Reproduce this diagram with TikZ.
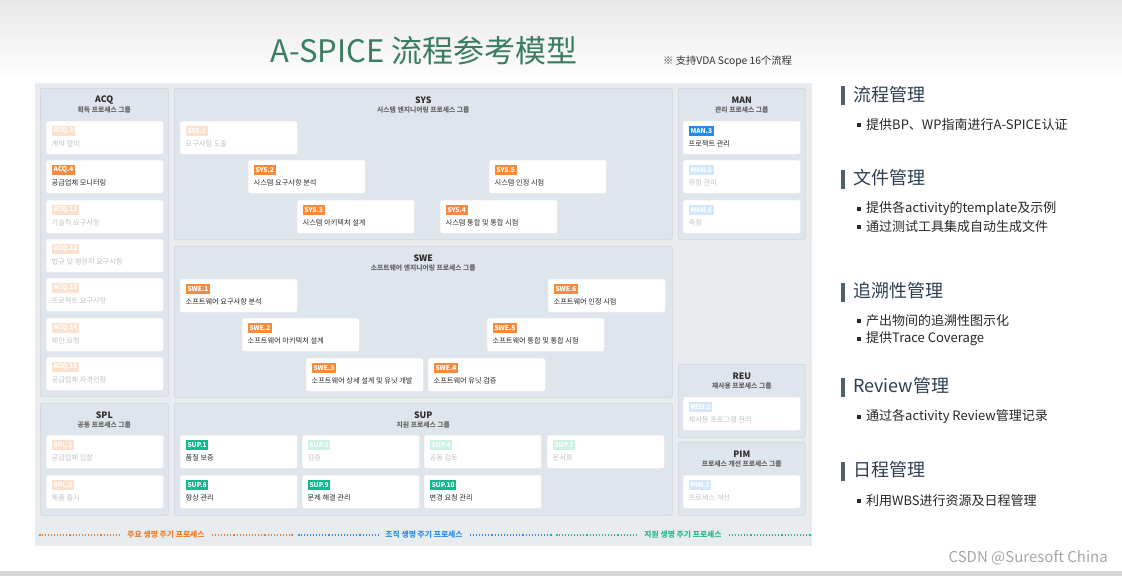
\documentclass[tikz,border=0pt]{standalone}
\usepackage{fontspec}
\setmainfont{Noto Sans CJK SC}
\newfontfamily\kr{Noto Sans CJK KR}
\newfontfamily\zhf{Noto Sans CJK SC}
\usetikzlibrary{calc}
\definecolor{panelbg}{HTML}{E8ECEF}
\definecolor{groupbg}{HTML}{DFE5EC}
\definecolor{groupline}{HTML}{CDD4DC}
\definecolor{orangeT}{HTML}{F68B3E}
\definecolor{orangeF}{HTML}{FDE1CF}
\definecolor{blueT}{HTML}{1E8CF0}
\definecolor{blueF}{HTML}{D3E8FB}
\definecolor{greenT}{HTML}{14B88E}
\definecolor{greenF}{HTML}{CDF1E6}
\definecolor{txt}{HTML}{2A2A2A}
\definecolor{txtF}{HTML}{C2C2C2}
\definecolor{titlegreen}{HTML}{3B7D60}
\definecolor{headcol}{HTML}{2D3E50}
\definecolor{barcol}{HTML}{4F5F70}
\definecolor{legO}{HTML}{EF7D2C}
\definecolor{legB}{HTML}{2F8FE6}
\definecolor{legG}{HTML}{27B98C}
\tikzset{
  item/.style={draw=black!7, fill=white, rounded corners=1.5pt, minimum width=117pt, minimum height=33pt, anchor=north west, inner sep=0pt},
  tag/.style={anchor=north west, text=white, font=\kr\bfseries\fontsize{6.6}{7}\selectfont, inner xsep=1.8pt, inner ysep=0pt, minimum height=9.5pt},
  lbl/.style={anchor=west, inner sep=0pt, font=\kr\fontsize{7.2}{8}\selectfont},
  group/.style={draw=groupline, fill=groupbg, rounded corners=2pt, line width=0.6pt, anchor=north west, inner sep=0pt},
  gtitle/.style={font=\kr\bfseries\fontsize{8.8}{10}\selectfont, text=txt, inner sep=0pt},
  gsub/.style={font=\kr\bfseries\fontsize{6.8}{8}\selectfont, text=black!60, inner sep=0pt},
  head/.style={anchor=west, inner sep=0pt, font=\zhf\fontsize{18}{20}\selectfont, text=headcol},
  hbar/.style={fill=barcol, inner sep=0pt, minimum width=4pt, minimum height=19pt},
  bul/.style={fill=txt, inner sep=0pt, minimum size=3.5pt},
  btext/.style={anchor=west, inner sep=0pt, font=\zhf\fontsize{13}{15}\selectfont, text=black!85},
  legline/.style={dotted, line width=1.1pt},
  legdot/.style={circle, inner sep=0pt, minimum size=2.6pt},
  legtext/.style={inner sep=0pt, font=\kr\bfseries\fontsize{7.8}{9}\selectfont}
}
\newcommand\proc[7]{%
  \node[item] (#1) at (#2,#3) {};
  \node[tag, fill=#6] (#1-t) at ([xshift=5.5pt,yshift=-5pt]#1.north west) {#4};
  \node[lbl, text=#7] (#1-l) at ([xshift=5.5pt,yshift=-23pt]#1.north west) {#5};
}
\newcommand\grp[8]{% name x y w h title subtitle dummy
  \node[group, minimum width=#4pt, minimum height=#5pt] (#1) at (#2,#3) {};
  \node[gtitle] (#1-title) at ([yshift=-12pt]#1.north) {#6};
  \node[gsub] (#1-sub) at ([yshift=-22pt]#1.north) {#7};
}
\begin{document}
\begin{tikzpicture}[x=1pt,y=-1pt]
\useasboundingbox (0,0) rectangle (1122,576);
% background
\shade[top color=black!9, bottom color=white] (0,0) rectangle (1122,82);
\fill[black!16] (0,571) rectangle (1122,576);
% title
\node[inner sep=0pt, font=\zhf\fontsize{31}{34}\selectfont, text=titlegreen] (title) at (424,51) {A-SPICE 流程参考模型};
\node[inner sep=0pt, anchor=west, font=\zhf\fontsize{10.3}{12}\selectfont, text=black!80] (note) at (663,61) {※ 支持VDA Scope 16个流程};
% diagram panel
\node[fill=panelbg, inner sep=0pt, minimum width=777pt, minimum height=463pt, anchor=north west] (panel) at (35,83) {};
% ACQ
\grp{acq}{40}{88}{128}{308}{ACQ}{획득 프로세스 그룹}{}
\proc{acq3}{46}{121}{ACQ.3}{계약 협의}{orangeF}{txtF}
\proc{acq4}{46}{160}{ACQ.4}{공급업체 모니터링}{orangeT}{txt}
\proc{acq11}{46}{200}{ACQ.11}{기술적 요구사항}{orangeF}{txtF}
\proc{acq12}{46}{239}{ACQ.12}{법규 및 행정적 요구사항}{orangeF}{txtF}
\proc{acq13}{46}{278}{ACQ.13}{프로젝트 요구사항}{orangeF}{txtF}
\proc{acq14}{46}{318}{ACQ.14}{제안 요청}{orangeF}{txtF}
\proc{acq15}{46}{357}{ACQ.15}{공급업체 자격인정}{orangeF}{txtF}
% SYS
\grp{sys}{174}{88}{498}{151}{SYS}{시스템 엔지니어링 프로세스 그룹}{}
\proc{sys1}{180}{121}{SYS.1}{요구사항 도출}{orangeF}{txtF}
\proc{sys2}{248}{160}{SYS.2}{시스템 요구사항 분석}{orangeT}{txt}
\proc{sys3}{297}{200}{SYS.3}{시스템 아키텍처 설계}{orangeT}{txt}
\proc{sys4}{440}{200}{SYS.4}{시스템 통합 및 통합 시험}{orangeT}{txt}
\proc{sys5}{489}{160}{SYS.5}{시스템 인정 시험}{orangeT}{txt}
% SWE
\grp{swe}{174}{246}{498}{151}{SWE}{소프트웨어 엔지니어링 프로세스 그룹}{}
\proc{swe1}{180}{279}{SWE.1}{소프트웨어 요구사항 분석}{orangeT}{txt}
\proc{swe2}{242}{318}{SWE.2}{소프트웨어 아키텍처 설계}{orangeT}{txt}
\proc{swe3}{306}{358}{SWE.3}{소프트웨어 상세 설계 및 유닛 개발}{orangeT}{txt}
\proc{swe4}{428}{358}{SWE.4}{소프트웨어 유닛 검증}{orangeT}{txt}
\proc{swe5}{487}{318}{SWE.5}{소프트웨어 통합 및 통합 시험}{orangeT}{txt}
\proc{swe6}{548}{279}{SWE.6}{소프트웨어 인정 시험}{orangeT}{txt}
% MAN
\grp{man}{678}{88}{127}{151}{MAN}{관리 프로세스 그룹}{}
\proc{man3}{683}{121}{MAN.3}{프로젝트 관리}{blueT}{txt}
\proc{man5}{683}{160}{MAN.5}{위험 관리}{blueF}{txtF}
\proc{man6}{683}{200}{MAN.6}{측정}{blueF}{txtF}
% REU
\grp{reu}{678}{364}{127}{73}{REU}{재사용 프로세스 그룹}{}
\proc{reu2}{683}{397}{REU.2}{재사용 프로그램 관리}{blueF}{txtF}
% PIM
\grp{pim}{678}{442}{127}{73}{PIM}{프로세스 개선 프로세스 그룹}{}
\proc{pim3}{683}{475}{PIM.3}{프로세스 개선}{blueF}{txtF}
% SPL
\grp{spl}{40}{403}{128}{112}{SPL}{공동 프로세스 그룹}{}
\proc{spl1}{46}{435}{SPL.1}{공급업체 입찰}{orangeF}{txtF}
\proc{spl2}{46}{475}{SPL.2}{제품 출시}{orangeF}{txtF}
% SUP
\grp{sup}{174}{403}{498}{112}{SUP}{지원 프로세스 그룹}{}
\proc{sup1}{180}{435}{SUP.1}{품질 보증}{greenT}{txt}
\proc{sup2}{302}{435}{SUP.2}{검증}{greenF}{txtF}
\proc{sup4}{424}{435}{SUP.4}{공동 검토}{greenF}{txtF}
\proc{sup7}{547}{435}{SUP.7}{문서화}{greenF}{txtF}
\proc{sup8}{180}{475}{SUP.8}{형상 관리}{greenT}{txt}
\proc{sup9}{302}{475}{SUP.9}{문제 해결 관리}{greenT}{txt}
\proc{sup10}{424}{475}{SUP.10}{변경 요청 관리}{greenT}{txt}
% legend
\node[legtext, text=legO] (lego) at (166,535) {주요 생명 주기 프로세스};
\node[legtext, text=legB] (legb) at (424,535) {조직 생명 주기 프로세스};
\node[legtext, text=legG] (legg) at (683,535) {지원 생명 주기 프로세스};
\node[legdot, fill=legO] (o1) at (40,535) {};
\node[legdot, fill=legO] (o2) at (292,535) {};
\node[legdot, fill=legB] (b1) at (299,535) {};
\node[legdot, fill=legB] (b2) at (551,535) {};
\node[legdot, fill=legG] (g1) at (557,535) {};
\node[legdot, fill=legG] (g2) at (810,535) {};
\draw[legline, legO] (o1) -- ([xshift=-7pt]lego.west);
\draw[legline, legO] ([xshift=7pt]lego.east) -- (o2);
\draw[legline, legB] (b1) -- ([xshift=-7pt]legb.west);
\draw[legline, legB] ([xshift=7pt]legb.east) -- (b2);
\draw[legline, legG] (g1) -- ([xshift=-7pt]legg.west);
\draw[legline, legG] ([xshift=7pt]legg.east) -- (g2);
% right side
\node[hbar] (bar1) at (843,95) {};
\node[head] (h1) at (853,95) {流程管理};
\node[bul] (b11) at (859,125) {};
\node[btext] (t11) at (866,125) {提供BP、WP指南进行A-SPICE认证};
\node[hbar] (bar2) at (843,179) {};
\node[head] (h2) at (853,178) {文件管理};
\node[bul] (b21) at (859,209) {};
\node[btext] (t21) at (866,209) {提供各activity的template及示例};
\node[bul] (b22) at (859,227) {};
\node[btext] (t22) at (866,227) {通过测试工具集成自动生成文件};
\node[hbar] (bar3) at (843,292) {};
\node[head] (h3) at (853,291) {追溯性管理};
\node[bul] (b31) at (859,321) {};
\node[btext] (t31) at (866,321) {产出物间的追溯性图示化};
\node[bul] (b32) at (859,339) {};
\node[btext] (t32) at (866,339) {提供Trace Coverage};
\node[hbar] (bar4) at (843,387) {};
\node[head] (h4) at (853,386) {Review管理};
\node[bul] (b41) at (859,417) {};
\node[btext] (t41) at (866,417) {通过各activity Review管理记录};
\node[hbar] (bar5) at (843,471) {};
\node[head] (h5) at (853,470) {日程管理};
\node[bul] (b51) at (859,501) {};
\node[btext] (t51) at (866,501) {利用WBS进行资源及日程管理};
% watermark
\node[inner sep=0pt, anchor=east, font=\zhf\fontsize{15}{17}\selectfont, text=black!35] (wm) at (1108,558) {CSDN @Suresoft China};
\end{tikzpicture}
\end{document}
